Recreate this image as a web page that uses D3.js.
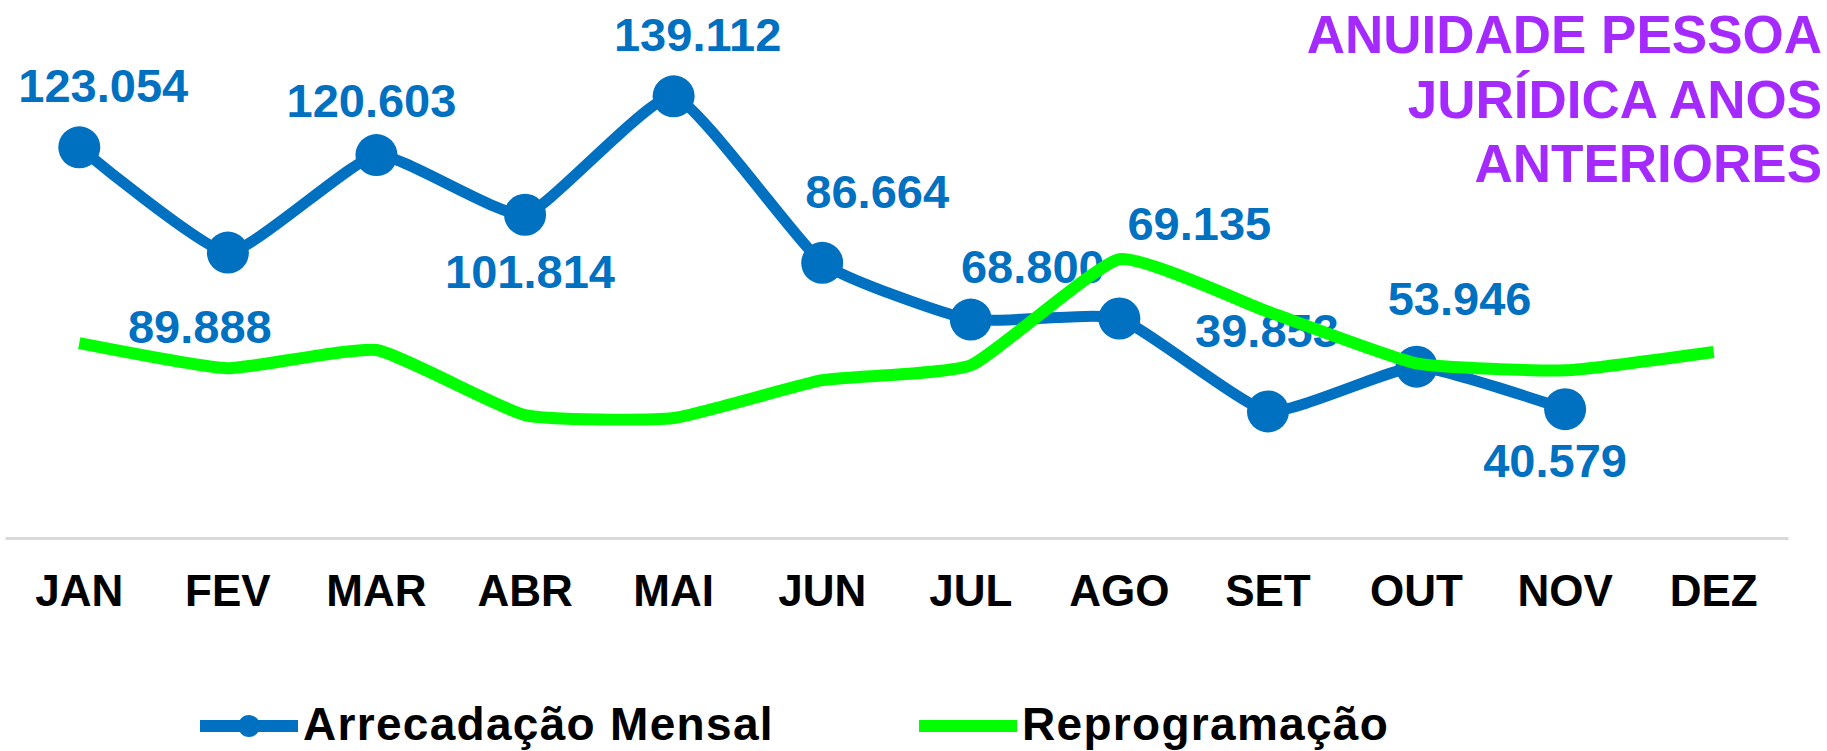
<!DOCTYPE html>
<html>
<head>
<meta charset="utf-8">
<script src="https://cdn.jsdelivr.net/npm/d3@7"></script>
<style>
  html, body { margin: 0; padding: 0; background: #fff; }
  svg { display: block; font-family: "Liberation Sans", Arial, sans-serif; }
</style>
</head>
<body>
<svg width="1827" height="751"></svg>
<script>
const months = ["JAN", "FEV", "MAR", "ABR", "MAI", "JUN", "JUL", "AGO", "SET", "OUT", "NOV", "DEZ"];
// monthly collection (no value yet for DEZ)
const arrecadacao = [123054, 89888, 120603, 101814, 139112, 86664, 68800, 69135, 39853, 53946, 40579];
// reprogramming
const reprogramacao = [61400, 53500, 59200, 38700, 37800, 49700, 54400, 87800, 71300, 55000, 52800, 58600];
const titleLines = ["ANUIDADE PESSOA", "JURÍDICA ANOS", "ANTERIORES"];
const seriesNames = ["Arrecadação Mensal", "Reprogramação"];

// hand placed label nudges (dx, dy from the point), like the original
const labelNudge = [[24, -45], [-28, 90], [-5, -38], [5, 73], [24, -45], [55, -55],
  [62, -37], [80, -78], [-1, -64], [43, -52], [-10, 68]];

const BLUE = "#0070c0";
const GREEN = "#00ff00";

const svg = d3.select("svg");

const x = d3.scaleBand().domain(months).range([5, 1788]);
const y = d3.scaleLinear().domain([0, 160000]).range([538, 30]);
const cx = m => x(m) + x.bandwidth() / 2;

const fmt = v => d3.format(",")(v).replace(/,/g, ".");

// x axis
const axis = svg.append("g")
  .attr("transform", "translate(0,538)")
  .call(d3.axisBottom(x).tickSize(0).tickSizeOuter(0).tickPadding(37));
axis.select(".domain").attr("stroke", "#d9d9d9").attr("stroke-width", 3);
axis.selectAll("text")
  .attr("fill", "#000")
  .style("font-size", "44px")
  .style("font-weight", "bold")
  .style("font-family", "'Liberation Sans', Arial, sans-serif");

// excel-ish smoothing, only slight rounding at the corners
const lineGen = d3.line()
  .x(d => cx(d.m))
  .y(d => y(d.v))
  .curve(d3.curveCardinal.tension(0.55));

const blueData = arrecadacao.map((v, i) => ({ m: months[i], v: v }));
const greenData = reprogramacao.map((v, i) => ({ m: months[i], v: v }));

svg.append("path")
  .datum(blueData)
  .attr("d", lineGen)
  .attr("fill", "none")
  .attr("stroke", BLUE)
  .attr("stroke-width", 11)
  .attr("stroke-linejoin", "round");

svg.append("g").selectAll("circle")
  .data(blueData)
  .enter()
  .append("circle")
  .attr("cx", d => cx(d.m))
  .attr("cy", d => y(d.v))
  .attr("r", 21)
  .attr("fill", BLUE);

svg.append("g").selectAll("text")
  .data(blueData)
  .enter()
  .append("text")
  .attr("x", (d, i) => cx(d.m) + labelNudge[i][0])
  .attr("y", (d, i) => y(d.v) + labelNudge[i][1])
  .attr("text-anchor", "middle")
  .attr("fill", BLUE)
  .style("font-size", "47px")
  .style("font-weight", "bold")
  .text(d => fmt(d.v));

// green goes on top of everything
svg.append("path")
  .datum(greenData)
  .attr("d", lineGen)
  .attr("fill", "none")
  .attr("stroke", GREEN)
  .attr("stroke-width", 12)
  .attr("stroke-linejoin", "round");

// title, top right
svg.append("g").selectAll("text")
  .data(titleLines)
  .enter()
  .append("text")
  .attr("x", 1822)
  .attr("y", (d, i) => 53 + i * 64.5)
  .attr("text-anchor", "end")
  .attr("fill", "#a52aff")
  .style("font-size", "53px")
  .style("font-weight", "bold")
  .text(d => d);

// legend
const legend = svg.append("g");
const legendItems = [
  { name: seriesNames[0], color: BLUE, x0: 200, marker: true },
  { name: seriesNames[1], color: GREEN, x0: 919, marker: false }
];
legendItems.forEach(it => {
  legend.append("line")
    .attr("x1", it.x0).attr("x2", it.x0 + 98)
    .attr("y1", 726).attr("y2", 726)
    .attr("stroke", it.color)
    .attr("stroke-width", 12);
  if (it.marker) {
    legend.append("circle")
      .attr("cx", it.x0 + 49).attr("cy", 726).attr("r", 11)
      .attr("fill", it.color);
  }
  legend.append("text")
    .attr("x", it.x0 + 103)
    .attr("y", 740)
    .attr("fill", "#000")
    .style("font-size", "46px")
    .style("font-weight", "bold")
    .style("letter-spacing", "1.3px")
    .text(it.name);
});
</script>
</body>
</html>
